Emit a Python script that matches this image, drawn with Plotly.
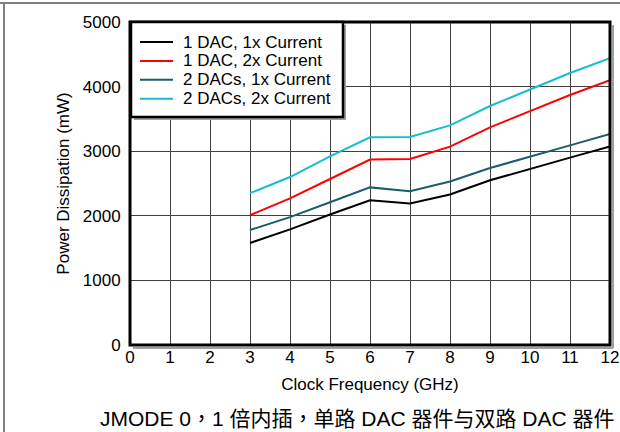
import plotly.graph_objects as go

freq = [3, 4, 5, 6, 7, 8, 9, 10, 11, 12]
one_dac_1x = [1580, 1790, 2020, 2240, 2190, 2330, 2550, 2720, 2900, 3075]
one_dac_2x = [2010, 2270, 2570, 2870, 2880, 3070, 3370, 3615, 3870, 4100]
two_dac_1x = [1780, 1980, 2210, 2440, 2380, 2530, 2740, 2910, 3090, 3265]
two_dac_2x = [2350, 2600, 2920, 3215, 3220, 3400, 3700, 3960, 4210, 4440]

series_names = ["1 DAC, 1x Current", "1 DAC, 2x Current", "2 DACs, 1x Current", "2 DACs, 2x Current"]
series_vals = [one_dac_1x, one_dac_2x, two_dac_1x, two_dac_2x]
series_colors = ["#000000", "#ff0000", "#1b5c6b", "#17bccf"]

x_ticks = list(range(0, 13))
y_ticks = [0, 1000, 2000, 3000, 4000, 5000]

caption = "JMODE 0，1 倍内插，单路 DAC 器件与双路 DAC 器件"

FONT = "Liberation Sans, Arial, Noto Sans CJK SC, sans-serif"

fig = go.Figure()
for name, vals, col in zip(series_names, series_vals, series_colors):
    fig.add_trace(go.Scatter(x=freq, y=vals, mode="lines", name=name,
                             line=dict(color=col, width=2), showlegend=False))

W, H = 620, 432
L, R, T, B = 130, 10, 22, 87
pw, ph = W - L - R, H - T - B


def px(x):
    return (x - L) / pw


def py(y):
    return (H - B - y) / ph


shapes = [
    # outer frame lines (top and left)
    dict(type="line", xref="paper", yref="paper", x0=px(0), x1=px(620), y0=py(3), y1=py(3),
         line=dict(color="#808080", width=2)),
    dict(type="line", xref="paper", yref="paper", x0=px(4), x1=px(4), y0=py(3), y1=py(432),
         line=dict(color="#808080", width=2)),
    # plot shadow
    dict(type="line", xref="paper", yref="paper", x0=px(L + pw + 3), x1=px(L + pw + 3),
         y0=py(T + 3), y1=py(T + ph + 3), line=dict(color="#a0a0a0", width=2), layer="below"),
    dict(type="line", xref="paper", yref="paper", x0=px(L + 3), x1=px(L + pw + 3),
         y0=py(T + ph + 3), y1=py(T + ph + 3), line=dict(color="#a0a0a0", width=2), layer="below"),
    # plot border
    dict(type="rect", xref="paper", yref="paper", x0=0, x1=1, y0=0, y1=1,
         line=dict(color="#000000", width=3)),
]

annotations = [
    dict(text=caption, xref="paper", yref="paper", x=px(98), y=py(418),
         xanchor="left", yanchor="middle", showarrow=False,
         font=dict(family="Liberation Sans, Arial, Noto Sans CJK TC", size=21, color="#000000")),
]

# legend box (drawn as shapes + text, entries taken from the series lists)
LEG_L, LEG_T, LEG_R, LEG_B = 131, 22, 343, 117
shapes.append(dict(type="rect", xref="paper", yref="paper",
                   x0=px(LEG_L + 3), x1=px(LEG_R + 3), y0=py(LEG_T + 3), y1=py(LEG_B + 3),
                   line=dict(width=0), fillcolor="#a0a0a0"))
shapes.append(dict(type="rect", xref="paper", yref="paper",
                   x0=px(LEG_L), x1=px(LEG_R), y0=py(LEG_T), y1=py(LEG_B),
                   line=dict(color="#000000", width=2.5), fillcolor="white"))
row_y0, row_dy = 42, 18.9
for i, (name, col) in enumerate(zip(series_names, series_colors)):
    ry = row_y0 + i * row_dy
    shapes.append(dict(type="line", xref="paper", yref="paper",
                       x0=px(140), x1=px(173), y0=py(ry), y1=py(ry),
                       line=dict(color=col, width=2)))
    annotations.append(dict(text=name, xref="paper", yref="paper", x=px(181), y=py(ry),
                            xanchor="left", yanchor="middle", showarrow=False,
                            font=dict(family=FONT, size=17, color="#000000")))

fig.update_layout(
    width=W, height=H,
    margin=dict(l=L, r=R, t=T, b=B, pad=0),
    paper_bgcolor="white", plot_bgcolor="white",
    font=dict(family=FONT, size=17, color="#000000"),
    showlegend=False,
    xaxis=dict(range=[0, 12], tickmode="array", tickvals=x_ticks,
               ticktext=[str(v) for v in x_ticks],
               showgrid=True, gridcolor="#404040", gridwidth=1,
               zeroline=False, showline=False, automargin=False,
               ticks="", ticklen=0,
               tickfont=dict(size=17),
               title=dict(text="Clock Frequency (GHz)", font=dict(size=17), standoff=12),
               fixedrange=True),
    yaxis=dict(range=[0, 5000], tickmode="array", tickvals=y_ticks,
               ticktext=[str(v) for v in y_ticks],
               showgrid=True, gridcolor="#404040", gridwidth=1,
               zeroline=False, showline=False, automargin=False,
               ticks="outside", ticklen=5, tickcolor="rgba(0,0,0,0)",
               tickfont=dict(size=17),
               title=dict(text="Power Dissipation (mW)", font=dict(size=17), standoff=8),
               fixedrange=True),
    shapes=shapes,
    annotations=annotations,
)

fig.write_html("out.html", config={"displayModeBar": False},
               post_script="document.body.style.margin='0';document.body.style.overflow='hidden';")
